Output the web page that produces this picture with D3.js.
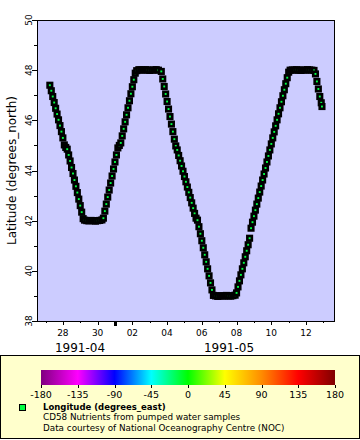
<!DOCTYPE html>
<html>
<head>
<meta charset="utf-8">
<script src="https://cdn.jsdelivr.net/npm/d3@7"></script>
<style>
body { margin: 0; background: #fff; }
svg { display: block; font-family: "DejaVu Sans", sans-serif; }
</style>
</head>
<body>
<div id="chart"></div>
<script>
// sample times, hours since 1991-04-27 00:00 UTC
var hours = [
	6,8,10,12,14,16,18,20,22,24,26,28,30,32,34,36,38,40,42,44,46,48,50,52,
	54,57,60,63,66,69,72,75,78,
	80,82,84,86,88,90,92,94,96,98,100,102,104,106,108,110,112,114,116,118,120,122,124,126,
	129,132,135,138,141,144,147,150,153,156,
	160,162,164,166,168,170,172,174,176,178,180,182,184,186,188,190,192,194,196,198,200,202,204,206,208,
	210,212,214,216,218,220,222,224,226,228,230,232,
	235,238,241,244,247,250,253,256,259,262,
	264,266,268,270,272,274,276,278,280,282,284,286,288,290,292,294,296,298,300,302,304,306,308,310,312,314,316,318,320,322,324,326,328,330,332,334,336,338,
	341,344,347,350,353,356,359,362,365,368,371,
	373,375,377,379,381,382
];
var lats = [
	47.40,47.18,46.95,46.71,46.48,46.25,46.02,45.79,45.55,45.30,45.02,44.92,44.85,44.62,44.38,44.12,43.88,43.62,43.37,43.12,42.86,42.60,42.34,42.08,
	42.02,42.00,41.99,42.01,42.00,41.98,42.00,42.01,42.03,
	42.10,42.38,42.66,42.94,43.22,43.50,43.78,44.06,44.34,44.62,44.90,45.00,45.10,45.38,45.66,45.94,46.22,46.50,46.78,47.06,47.34,47.62,47.88,47.98,
	48.02,48.01,48.00,48.02,48.01,47.99,48.00,48.01,48.02,48.00,
	47.95,47.65,47.35,47.05,46.75,46.45,46.15,45.85,45.55,45.25,44.98,44.82,44.60,44.39,44.18,43.97,43.76,43.55,43.34,43.13,42.92,42.71,42.50,42.29,42.10,
	42.02,41.76,41.48,41.20,40.92,40.64,40.36,40.08,39.80,39.52,39.24,39.02,
	39.00,38.98,39.01,39.00,38.99,39.02,39.00,38.99,39.01,39.03,
	39.12,39.36,39.60,39.84,40.08,40.32,40.56,40.80,41.04,41.30,41.70,41.94,42.18,42.42,42.66,42.90,43.14,43.38,43.62,43.86,44.10,44.34,44.58,44.82,45.06,45.30,45.54,45.78,46.02,46.26,46.50,46.74,46.98,47.22,47.46,47.70,47.92,48.00,
	48.01,48.00,48.02,48.00,47.99,48.01,48.00,48.02,48.01,48.00,47.99,
	47.85,47.55,47.25,46.95,46.70,46.55
];
var lons = [
	-11.9,-11.9,-12.0,-12.0,-12.0,-12.0,-12.1,-12.1,-12.1,-12.1,-12.0,-12.0,-12.0,-12.0,-12.1,-12.1,-12.1,-12.1,-12.1,-12.0,-12.0,-12.0,-12.0,-12.0,
	-12.0,-12.1,-12.2,-12.2,-12.3,-12.3,-12.2,-12.1,-12.0,
	-12.0,-12.0,-12.0,-12.1,-12.1,-12.1,-12.1,-12.0,-12.0,-12.0,-12.0,-12.0,-12.0,-12.0,-11.9,-11.9,-11.9,-11.9,-12.0,-12.0,-12.0,-12.0,-12.0,-12.0,
	-12.0,-12.1,-12.2,-12.2,-12.3,-12.3,-12.2,-12.1,-12.0,-12.0,
	-12.0,-12.0,-12.0,-12.0,-12.1,-12.1,-12.1,-12.1,-12.0,-12.0,-12.0,-12.0,-12.0,-12.0,-12.0,-12.1,-12.1,-12.1,-12.0,-12.0,-12.0,-12.0,-12.0,-12.0,-12.0,
	-12.0,-12.0,-12.0,-12.1,-12.1,-12.1,-12.0,-12.0,-12.0,-12.0,-12.0,-12.0,
	-12.0,-12.1,-12.2,-12.2,-12.3,-12.3,-12.2,-12.1,-12.0,-12.0,
	-12.0,-12.0,-12.0,-12.0,-12.0,-12.1,-12.1,-12.1,-12.1,-12.0,-12.0,-12.0,-12.0,-12.0,-12.0,-12.0,-12.0,-12.1,-12.1,-12.1,-12.1,-12.0,-12.0,-12.0,-12.0,-12.0,-12.0,-12.0,-11.9,-11.9,-11.9,-12.0,-12.0,-12.0,-12.0,-12.0,-12.0,-12.0,
	-12.0,-12.1,-12.2,-12.2,-12.3,-12.3,-12.2,-12.1,-12.0,-12.0,-12.0,
	-12.0,-12.0,-12.0,-12.0,-12.0,-12.0
];

var latTicks = [38, 40, 42, 44, 46, 48, 50];
var latMinor = [39, 41, 43, 45, 47, 49];
var monthNames = ["1991-04", "1991-05"];
var cbarTicks = [-180, -135, -90, -45, 0, 45, 90, 135, 180];
var cbarColors = ["#800080", "#ff00ff", "#0000ff", "#00ffff", "#00ff00", "#ffff00", "#ff8c00", "#ff0000", "#800000"];
var legendLines = ["Longitude (degrees_east)", "CD58 Nutrients from pumped water samples", "Data courtesy of National Oceanography Centre (NOC)"];

var W = 360, H = 440;
var pLeft = 37, pRight = 335, pTop = 20, pBottom = 321;
var t0 = Date.UTC(1991, 3, 27);

var svg = d3.select("#chart").append("svg")
	.attr("width", W)
	.attr("height", H);

var x = d3.scaleUtc()
	.domain([new Date(Date.UTC(1991, 3, 26, 12, 15)), new Date(Date.UTC(1991, 4, 13, 16, 0))])
	.range([pLeft, pRight]);
var y = d3.scaleLinear()
	.domain([38, 50])
	.range([pBottom, pTop]);
var color = d3.scaleLinear()
	.domain(cbarTicks)
	.range(cbarColors)
	.clamp(true);

// plot background
svg.append("rect")
	.attr("x", pLeft).attr("y", pTop)
	.attr("width", pRight - pLeft).attr("height", pBottom - pTop)
	.attr("fill", "#ccccff");

svg.append("clipPath").attr("id", "clip")
	.append("rect")
	.attr("x", pLeft).attr("y", pTop)
	.attr("width", pRight - pLeft).attr("height", pBottom - pTop);

var pts = hours.map(function(h, i)
{
	return {t: new Date(t0 + h * 3600e3), lat: lats[i], lon: lons[i]};
});

// dense track: thick black outline, small coloured core
svg.append("g")
	.attr("clip-path", "url(#clip)")
	.selectAll("rect")
	.data(pts)
	.enter()
	.append("rect")
	.attr("x", function(d) { return x(d.t) - 2.25; })
	.attr("y", function(d) { return y(d.lat) - 2.25; })
	.attr("width", 4.5)
	.attr("height", 4.5)
	.attr("fill", function(d) { return color(d.lon); })
	.attr("stroke", "#000")
	.attr("stroke-width", 2.6);

svg.append("rect")
	.attr("x", pLeft + 0.5).attr("y", pTop + 0.5)
	.attr("width", pRight - pLeft - 1).attr("height", pBottom - pTop)
	.attr("fill", "none")
	.attr("stroke", "#000");

// y axis
var gy = svg.append("g");
gy.selectAll("line.major")
	.data(latTicks)
	.enter()
	.append("line")
	.attr("x1", pLeft - 5).attr("x2", pLeft)
	.attr("y1", function(d) { return Math.round(y(d)) + 0.5; })
	.attr("y2", function(d) { return Math.round(y(d)) + 0.5; })
	.attr("stroke", "#000");
gy.selectAll("line.minor")
	.data(latMinor)
	.enter()
	.append("line")
	.attr("x1", pLeft - 3).attr("x2", pLeft)
	.attr("y1", function(d) { return Math.round(y(d)) + 0.5; })
	.attr("y2", function(d) { return Math.round(y(d)) + 0.5; })
	.attr("stroke", "#000");
gy.selectAll("text")
	.data(latTicks)
	.enter()
	.append("text")
	.attr("transform", function(d) { return "translate(32," + y(d) + ") rotate(-90)"; })
	.attr("text-anchor", "middle")
	.attr("font-size", "9px")
	.text(function(d) { return d; });

svg.append("text")
	.attr("transform", "translate(16," + ((pTop + pBottom) / 2) + ") rotate(-90)")
	.attr("text-anchor", "middle")
	.attr("font-size", "12px")
	.text("Latitude (degrees_north)");

// x axis
var evenDays = x.ticks(d3.utcDay.filter(function(d) { return d.getUTCDate() % 2 === 0; }));
var oddDays = x.ticks(d3.utcDay.filter(function(d) { return d.getUTCDate() % 2 === 1 && d.getUTCDate() !== 1; }));
var monthStarts = x.ticks(d3.utcMonth);
var fmt = d3.utcFormat("%d");

var gx = svg.append("g");
gx.selectAll("line.major")
	.data(evenDays)
	.enter()
	.append("line")
	.attr("x1", function(d) { return Math.round(x(d)) + 0.5; })
	.attr("x2", function(d) { return Math.round(x(d)) + 0.5; })
	.attr("y1", pBottom).attr("y2", pBottom + 4)
	.attr("stroke", "#000");
gx.selectAll("line.minor")
	.data(oddDays)
	.enter()
	.append("line")
	.attr("x1", function(d) { return Math.round(x(d)) + 0.5; })
	.attr("x2", function(d) { return Math.round(x(d)) + 0.5; })
	.attr("y1", pBottom).attr("y2", pBottom + 2)
	.attr("stroke", "#000");
gx.selectAll("rect.month")
	.data(monthStarts)
	.enter()
	.append("rect")
	.attr("x", function(d) { return Math.round(x(d)) - 1; })
	.attr("y", pBottom)
	.attr("width", 3).attr("height", 5)
	.attr("fill", "#000");
gx.selectAll("text.day")
	.data(evenDays)
	.enter()
	.append("text")
	.attr("x", function(d) { return x(d); })
	.attr("y", 336)
	.attr("text-anchor", "middle")
	.attr("font-size", "9px")
	.text(function(d) { return fmt(d); });

var dom = x.domain();
var bounds = [dom[0]].concat(monthStarts, [dom[1]]);
gx.selectAll("text.month")
	.data(monthNames)
	.enter()
	.append("text")
	.attr("x", function(d, i) { return (x(bounds[i]) + x(bounds[i + 1])) / 2 + 4; })
	.attr("y", 352)
	.attr("text-anchor", "middle")
	.attr("font-size", "12px")
	.text(function(d) { return d; });

// legend
svg.append("rect")
	.attr("x", 0.5).attr("y", 355.5)
	.attr("width", W - 1).attr("height", 83)
	.attr("fill", "#ffffcc")
	.attr("stroke", "#000");

var cx = d3.scaleLinear().domain([-180, 180]).range([41, 335]);
var grad = svg.append("defs").append("linearGradient").attr("id", "cbar");
grad.selectAll("stop")
	.data(cbarTicks)
	.enter()
	.append("stop")
	.attr("offset", function(d) { return (d + 180) / 360; })
	.attr("stop-color", function(d, i) { return cbarColors[i]; });

svg.append("rect")
	.attr("x", cx(-180)).attr("y", 370)
	.attr("width", cx(180) - cx(-180)).attr("height", 15)
	.attr("fill", "url(#cbar)");

var gc = svg.append("g");
gc.selectAll("line")
	.data(cbarTicks)
	.enter()
	.append("line")
	.attr("x1", function(d) { return Math.round(cx(d)) + 0.5; })
	.attr("x2", function(d) { return Math.round(cx(d)) + 0.5; })
	.attr("y1", 385).attr("y2", 388)
	.attr("stroke", "#000");
gc.selectAll("text")
	.data(cbarTicks)
	.enter()
	.append("text")
	.attr("x", function(d) { return cx(d); })
	.attr("y", 398)
	.attr("text-anchor", "middle")
	.attr("font-size", "9.5px")
	.text(function(d) { return d; });

svg.append("rect")
	.attr("x", 19.5).attr("y", 404.5)
	.attr("width", 6).attr("height", 6)
	.attr("fill", color(-12))
	.attr("stroke", "#000");

svg.selectAll("text.leg")
	.data(legendLines)
	.enter()
	.append("text")
	.attr("x", 43)
	.attr("y", function(d, i) { return 410 + i * 10.3; })
	.attr("font-size", function(d, i) { return i === 0 ? "8.5px" : "8.8px"; })
	.attr("font-weight", function(d, i) { return i === 0 ? "bold" : "normal"; })
	.text(function(d) { return d; });
</script>
</body>
</html>
